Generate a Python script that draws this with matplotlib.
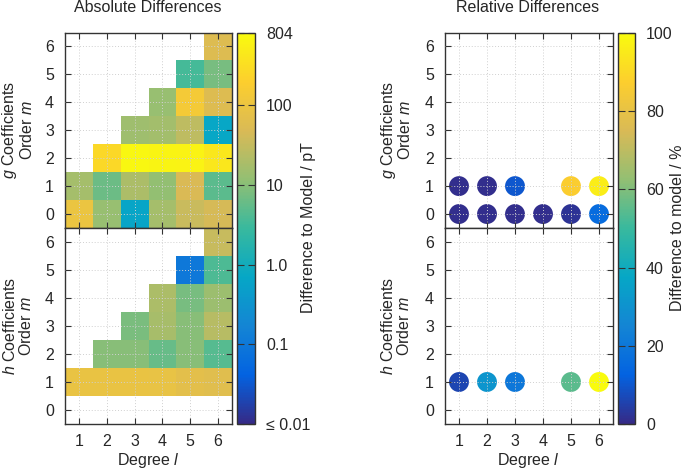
import numpy as np
import matplotlib
matplotlib.use("Agg")
import matplotlib.pyplot as plt
from matplotlib.colors import LinearSegmentedColormap, LogNorm, Normalize

plt.rcParams['font.family'] = ['Liberation Sans', 'DejaVu Sans']
plt.rcParams['mathtext.fontset'] = 'custom'
plt.rcParams['mathtext.it'] = 'Liberation Sans:italic'
plt.rcParams['mathtext.rm'] = 'Liberation Sans'

TXT = '#262626'
plt.rcParams['text.color'] = TXT
plt.rcParams['axes.labelcolor'] = TXT
plt.rcParams['xtick.color'] = '#333333'
plt.rcParams['ytick.color'] = '#333333'
plt.rcParams['xtick.labelcolor'] = TXT
plt.rcParams['ytick.labelcolor'] = TXT

# ---------------- data ----------------
degrees = [1, 2, 3, 4, 5, 6]
orders = [0, 1, 2, 3, 4, 5, 6]
nan = np.nan

# absolute differences (pT), rows: order m = 0..6, cols: degree l = 1..6
g_abs = [
    [100, 13, 0.65, 17, 35, 45],
    [17, 6.5, 19, 12, 48, 5],
    [nan, 260, 700, 620, 600, 420],
    [nan, nan, 15, 16, 27, 0.7],
    [nan, nan, nan, 13, 140, 55],
    [nan, nan, nan, nan, 3.5, 7.5],
    [nan, nan, nan, nan, nan, 55],
]
h_abs = [
    [nan, nan, nan, nan, nan, nan],
    [90, 90, 90, 85, 70, 65],
    [nan, 10, 10, 6, 10, 4.5],
    [nan, nan, 8, 18, 10, 24],
    [nan, nan, nan, 19, 7.5, 14],
    [nan, nan, nan, nan, 0.1, 4],
    [nan, nan, nan, nan, nan, 33],
]

# relative differences (%)
g_rel_l = [1, 2, 3, 4, 5, 6, 1, 2, 3, 5, 6]
g_rel_m = [0, 0, 0, 0, 0, 0, 1, 1, 1, 1, 1]
g_rel_v = [1, 1, 1, 1, 2, 16, 1, 1, 10, 87, 96]
h_rel_l = [1, 2, 3, 5, 6]
h_rel_m = [1, 1, 1, 1, 1]
h_rel_v = [6, 31, 20, 55, 100]

abs_ticks = [0.01, 0.1, 1, 10, 100, 804]
abs_ticklabels = ['≤ 0.01', '0.1', '1.0', '10', '100', '804']
rel_ticks = [0, 20, 40, 60, 80, 100]

parula = LinearSegmentedColormap.from_list('parula', [
    '#352a87', '#0363e1', '#1485d4', '#06a7c6', '#38b99e',
    '#92bf73', '#d9ba56', '#fcce2e', '#f9fb0e'])

W, H = 685, 472
fig = plt.figure(figsize=(W / 100, H / 100), dpi=100)


def px(x0, y0, x1, y1):
    return [x0 / W, 1 - y1 / H, (x1 - x0) / W, (y1 - y0) / H]


FS = 11.5


def style(ax, show_x):
    ax.set_xlim(0.5, 6.5)
    ax.set_ylim(-0.5, 6.5)
    ax.set_xticks(degrees)
    ax.set_yticks(orders)
    ax.tick_params(direction='in', top=True, right=True, length=4, width=0.8,
                   labelsize=FS)
    ax.tick_params(axis='y', pad=8)
    ax.tick_params(axis='x', pad=7)
    if not show_x:
        ax.tick_params(labelbottom=False)
    ax.grid(True, color='#d0d0d0', linestyle=(0, (1, 2)), linewidth=0.7,
            zorder=2)
    ax.set_axisbelow(False)
    for s in ax.spines.values():
        s.set_color('#333333')
        s.set_linewidth(1.0)


norm_abs = LogNorm(vmin=0.01, vmax=804)
norm_rel = Normalize(vmin=0, vmax=100)

edges_x = np.arange(0.5, 7.5, 1)
edges_y = np.arange(-0.5, 7.5, 1)

# left panels
axg = fig.add_axes(px(65, 32.5, 232, 228))
axh = fig.add_axes(px(65, 228, 232, 424))
for ax, data, show_x in [(axg, g_abs, False), (axh, h_abs, True)]:
    ax.pcolormesh(edges_x, edges_y, np.ma.masked_invalid(np.array(data, float)),
                  cmap=parula, norm=norm_abs, zorder=1)
    style(ax, show_x)

cax1 = fig.add_axes(px(237, 33, 255, 424))
cb1 = fig.colorbar(plt.cm.ScalarMappable(norm=norm_abs, cmap=parula), cax=cax1)
cb1.set_ticks(abs_ticks)
cb1.set_ticklabels(abs_ticklabels)
cb1.ax.minorticks_off()
cb1.ax.tick_params(direction='in', left=True, right=True, length=5, width=0.8,
                   labelsize=FS, pad=8, color='#333333')
cb1.outline.set_edgecolor('#333333')
cb1.outline.set_linewidth(1.0)

# right panels
axg2 = fig.add_axes(px(445, 32.5, 613, 228))
axh2 = fig.add_axes(px(445, 228, 613, 424))
for ax, ll, mm, vv, show_x in [(axg2, g_rel_l, g_rel_m, g_rel_v, False),
                                (axh2, h_rel_l, h_rel_m, h_rel_v, True)]:
    ax.scatter(ll, mm, c=vv, cmap=parula, norm=norm_rel, s=205,
               linewidths=0, zorder=1)
    style(ax, show_x)

cax2 = fig.add_axes(px(618, 33, 635, 424))
cb2 = fig.colorbar(plt.cm.ScalarMappable(norm=norm_rel, cmap=parula), cax=cax2)
cb2.set_ticks(rel_ticks)
cb2.ax.tick_params(direction='in', left=True, right=True, length=5, width=0.8,
                   labelsize=FS, pad=8, color='#333333')
cb2.outline.set_edgecolor('#333333')
cb2.outline.set_linewidth(1.0)

# labels
fig.text(148 / W, 1 - 8 / H, 'Absolute Differences', ha='center', va='center',
         fontsize=FS)
fig.text(528 / W, 1 - 8 / H, 'Relative Differences', ha='center', va='center',
         fontsize=FS)

for xc in (148, 528):
    fig.text(xc / W, 1 - 460 / H, 'Degree $l$', ha='center', va='center',
             fontsize=FS)

for xc in (18, 396):
    fig.text(xc / W, 1 - 130 / H, '$g$ Coefficients\nOrder $m$', rotation=90,
             ha='center', va='center', fontsize=FS, linespacing=1.0,
             multialignment='center')
    fig.text(xc / W, 1 - 326 / H, '$h$ Coefficients\nOrder $m$', rotation=90,
             ha='center', va='center', fontsize=FS, linespacing=1.0,
             multialignment='center')

fig.text(308 / W, 1 - 228 / H, 'Difference to Model / pT', rotation=90,
         ha='center', va='center', fontsize=FS)
fig.text(678 / W, 1 - 228 / H, 'Difference to model / %', rotation=90,
         ha='center', va='center', fontsize=FS)

fig.savefig('out.png', dpi=100)
